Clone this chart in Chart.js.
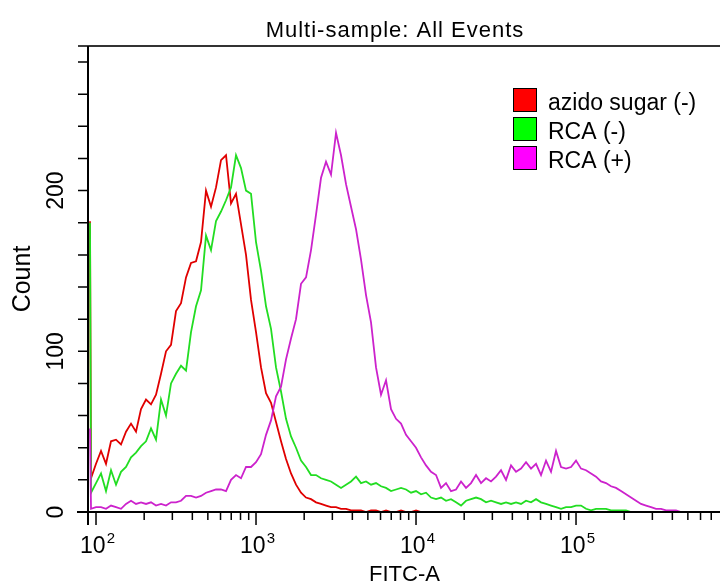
<!DOCTYPE html>
<html>
<head>
<meta charset="utf-8">
<script src="https://cdn.jsdelivr.net/npm/chart.js@4/dist/chart.umd.min.js"></script>
<style>
  html, body { margin: 0; padding: 0; background: #fff; overflow: hidden; }
</style>
</head>
<body>
<canvas id="histo" width="720" height="584"></canvas>
<script>
// FACS overlay histogram: FITC-A (log) vs Count, three samples.

const FONT = "'Liberation Sans', Arial, sans-serif";
const TITLE = 'Multi-sample: All Events';
const X_TITLE = 'FITC-A';
const Y_TITLE = 'Count';

const seriesNames = ['azido sugar (-)', 'RCA (-)', 'RCA (+)'];
const lineColors = ['#e00000', '#22dd22', '#cc22cc'];
const swatchColors = ['#ff0000', '#00ff00', '#ff00ff'];

// histogram channels, 32 per decade (FITC-A = 10^(ch/32)).
// first entry is the off-scale bin piled up on the left edge
const channels = [62.8,
  63, 64, 65, 66, 67, 68, 69, 70, 71, 72, 73, 74, 75, 76, 77, 78, 79, 80, 81, 82,
  83, 84, 85, 86, 87, 88, 89, 90, 91, 92, 93, 94, 95, 96, 97, 98, 99, 100, 101, 102,
  103, 104, 105, 106, 107, 108, 109, 110, 111, 112, 113, 114, 115, 116, 117, 118, 119, 120, 121, 122,
  123, 124, 125, 126, 127, 128, 129, 130, 131, 132, 133, 134, 135, 136, 137, 138, 139, 140, 141, 142,
  143, 144, 145, 146, 147, 148, 149, 150, 151, 152, 153, 154, 155, 156, 157, 158, 159, 160, 161, 162,
  163, 164, 165, 166, 167, 168, 169, 170, 171, 172, 173, 174, 175, 176, 177, 178, 179, 180, 181, 182,
  183, 184, 185, 186, 187, 188];

const azidoCounts = [181,
  21, 30, 38, 30, 44, 45, 42, 50, 55, 50,
  64, 70, 67, 73, 86, 100, 104, 125, 130, 146,
  155, 156, 168, 200, 190, 202, 219, 222, 192, 198,
  179, 160, 132, 112, 90, 74, 68, 56, 44, 33,
  24, 17, 12, 9, 8, 6, 5, 4, 3, 3,
  2, 2, 1, 1, 1, 0, 1, 1, 0, 1,
  0, 0, 1, 0, 0, 1, 0, 0, 0, 0,
  0, 0, 0, 0, 0, 0, 0, 0, 0, 0,
  0, 0, 0, 0, 0, 0, 0, 0, 0, 0,
  0, 0, 0, 0, 0, 0, 0, 0, 0, 0,
  0, 0, 0, 0, 0, 0, 0, 0, 0, 0,
  0, 0, 0, 0, 0, 0, 0, 0, 0, 0,
  0, 0, 0, 0, 0, 0];

const rcaNegCounts = [180,
  12, 18, 24, 13, 26, 17, 25, 28, 34, 37,
  41, 44, 52, 45, 70, 60, 80, 86, 91, 88,
  112, 128, 138, 172, 163, 181, 187, 194, 202, 222,
  214, 200, 198, 168, 150, 128, 114, 90, 75, 58,
  47, 40, 32, 28, 23, 23, 21, 20, 19, 17,
  15, 17, 19, 22, 18, 19, 17, 18, 16, 15,
  13, 14, 15, 14, 12, 13, 11, 12, 9, 8,
  9, 7, 8, 6, 4, 7, 8, 9, 8, 6,
  7, 6, 5, 6, 5, 6, 5, 7, 6, 8,
  6, 5, 4, 3, 2, 3, 3, 4, 4, 2,
  1, 2, 2, 2, 1, 1, 1, 1, 0, 0,
  0, 0, 0, 0, 0, 0, 0, 0, 0, 0,
  0, 0, 0, 0, 0, 0];

const rcaPosCounts = [52,
  2, 3, 3, 2, 4, 3, 2, 5, 7, 5,
  6, 5, 6, 4, 5, 4, 6, 6, 7, 10,
  10, 9, 10, 12, 13, 14, 14, 13, 20, 23,
  21, 28, 28, 31, 36, 48, 57, 72, 78, 95,
  108, 120, 142, 146, 163, 185, 208, 218, 210, 236,
  222, 204, 190, 176, 157, 135, 118, 90, 73, 82,
  64, 58, 55, 48, 44, 40, 34, 29, 25, 23,
  15, 18, 13, 14, 19, 15, 18, 23, 18, 21,
  19, 22, 26, 20, 29, 25, 27, 31, 27, 30,
  23, 32, 25, 38, 28, 27, 28, 32, 27, 26,
  24, 22, 19, 18, 16, 15, 13, 11, 9, 7,
  5, 4, 3, 2, 2, 1, 1, 1, 0, 0,
  0, 0, 0, 0, 0, 0];

// axes
const xMin = 90.4;
const xMax = 794000;
const yMax = 290;
const yStep = 20;
const xDecades = [100, 1000, 10000, 100000];
const xDecadeExp = ['2', '3', '4', '5'];
const xMinorTicks = [
  200, 300, 400, 500, 600, 700, 800, 900,
  2000, 3000, 4000, 5000, 6000, 7000, 8000, 9000,
  20000, 30000, 40000, 50000, 60000, 70000, 80000, 90000,
  200000, 300000, 400000, 500000, 600000, 700000];
const yLabelled = [0, 100, 200];

function toPoints(counts) {
  return channels.map((ch, i) => ({ x: Math.pow(10, ch / 32), y: counts[i] }));
}

const allCounts = [azidoCounts, rcaNegCounts, rcaPosCounts];
// later samples sit on top of earlier ones
const drawOrder = [3, 2, 1];

const flowFrame = {
  id: 'flowFrame',
  afterDraw(chart) {
    const { ctx, chartArea: a, scales: { x, y } } = chart;
    ctx.save();

    // frame + axes
    ctx.strokeStyle = '#333';
    ctx.lineWidth = 2;
    ctx.beginPath();
    ctx.moveTo(a.left, a.top);
    ctx.lineTo(a.right, a.top);
    ctx.stroke();

    ctx.strokeStyle = '#000';
    ctx.beginPath();
    ctx.moveTo(a.left - 1, a.top);
    ctx.lineTo(a.left - 1, a.bottom + 13);
    ctx.moveTo(a.left - 12, a.bottom);
    ctx.lineTo(a.right, a.bottom);
    ctx.stroke();

    // tick marks
    ctx.lineWidth = 1.5;
    ctx.beginPath();
    xMinorTicks.forEach(v => {
      const px = x.getPixelForValue(v);
      if (px > a.right) return;
      ctx.moveTo(px, a.bottom);
      ctx.lineTo(px, a.bottom + 8);
    });
    xDecades.forEach(v => {
      const px = x.getPixelForValue(v);
      ctx.moveTo(px, a.bottom);
      ctx.lineTo(px, a.bottom + 13);
    });
    y.ticks.forEach(t => {
      const py = y.getPixelForValue(t.value);
      ctx.moveTo(a.left - 11, py);
      ctx.lineTo(a.left, py);
    });
    ctx.stroke();

    // x tick labels: 10 with a raised exponent
    ctx.fillStyle = '#000';
    ctx.textAlign = 'left';
    ctx.textBaseline = 'alphabetic';
    xDecades.forEach((v, i) => {
      const px = x.getPixelForValue(v);
      ctx.font = `23px ${FONT}`;
      const wBase = ctx.measureText('10').width;
      ctx.font = `15px ${FONT}`;
      const wExp = ctx.measureText(xDecadeExp[i]).width;
      const start = px + 1.5 - (wBase + 1 + wExp) / 2;
      ctx.font = `23px ${FONT}`;
      ctx.fillText('10', start, a.bottom + 41);
      ctx.font = `15px ${FONT}`;
      ctx.fillText(xDecadeExp[i], start + wBase + 1, a.bottom + 31);
    });

    // y tick labels, rotated
    ctx.font = `23px ${FONT}`;
    ctx.textAlign = 'center';
    yLabelled.forEach(v => {
      const py = y.getPixelForValue(v);
      ctx.save();
      ctx.translate(a.left - 26, py);
      ctx.rotate(-Math.PI / 2);
      ctx.fillText(String(v), 0, 0);
      ctx.restore();
    });

    // title
    ctx.font = `22px ${FONT}`;
    ctx.letterSpacing = '1px';
    ctx.textAlign = 'center';
    ctx.fillText(TITLE, 395, 36.5);
    ctx.letterSpacing = '0px';

    // legend
    ctx.font = `23px ${FONT}`;
    ctx.textAlign = 'left';
    chart.data.datasets.forEach((ds, i) => {
      const top = 88 + i * 29;
      ctx.fillStyle = swatchColors[i];
      ctx.fillRect(513, top, 24, 24);
      ctx.strokeStyle = '#000';
      ctx.lineWidth = 1;
      ctx.strokeRect(513.5, top + 0.5, 23, 23);
      ctx.fillStyle = '#000';
      ctx.fillText(ds.label, 548, top + 21.5);
    });

    ctx.restore();
  }
};

new Chart(document.getElementById('histo'), {
  type: 'line',
  data: {
    datasets: seriesNames.map((name, i) => ({
      label: name,
      data: toPoints(allCounts[i]),
      borderColor: lineColors[i],
      borderWidth: 1.8,
      pointRadius: 0,
      tension: 0,
      fill: false,
      order: drawOrder[i],
    })),
  },
  options: {
    responsive: false,
    animation: false,
    devicePixelRatio: 1,
    layout: { padding: { top: 46, left: 0, right: 0, bottom: 0 } },
    plugins: {
      legend: { display: false },
      title: { display: false },
      tooltip: { enabled: false },
    },
    scales: {
      x: {
        type: 'logarithmic',
        min: xMin,
        max: xMax,
        ticks: { display: false },
        grid: { display: false },
        border: { display: false },
        title: {
          display: true,
          text: X_TITLE,
          color: '#000',
          font: { family: FONT, size: 22, lineHeight: 0.8 },
          padding: { top: 0, bottom: 0 },
        },
        afterFit: (scale) => { scale.height = 72; },
      },
      y: {
        min: 0,
        max: yMax,
        ticks: { display: false, stepSize: yStep },
        grid: { display: false },
        border: { display: false },
        title: {
          display: true,
          text: Y_TITLE,
          color: '#000',
          font: { family: FONT, size: 25 },
          padding: { top: 8, bottom: 0 },
        },
        afterFit: (scale) => { scale.width = 89; },
      },
    },
  },
  plugins: [flowFrame],
});
</script>
</body>
</html>
